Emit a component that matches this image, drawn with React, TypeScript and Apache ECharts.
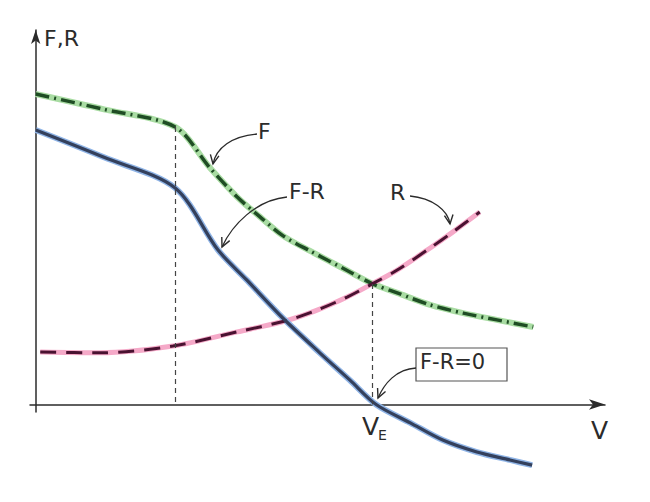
import React, { useEffect, useRef } from "react";
import * as echarts from "echarts";

// Speed V (x) and force (y), arbitrary units
const fV = [0, 12.0, 24.5, 30.6, 35.4, 39.4, 43.4, 48.2, 54.7, 59.1, 63.5, 69.3, 75.1, 81.0, 87.4];
const fForce = [82.9, 78.8, 74.1, 63.2, 55.4, 50.1, 45.1, 41.0, 35.8, 32.3, 29.8, 26.6, 24.4, 22.6, 20.7];

const rV = [0.8, 11.3, 24.1, 35.4, 43.8, 49.1, 54.7, 59.1, 63.5, 69.3, 73.3, 78.0];
const rForce = [14.0, 13.8, 15.6, 19.4, 22.3, 25.0, 28.7, 32.2, 35.9, 41.8, 46.1, 51.4];

const frV = [0, 12.0, 24.5, 32.0, 37.1, 43.4, 49.9, 55.2, 59.8, 65.8, 71.5, 77.5, 83.3, 87.2];
const frForce = [73.3, 66.0, 57.8, 41.3, 33.2, 23.1, 13.8, 6.5, 0, -4.9, -9.5, -12.7, -14.8, -16.2];

const kinkV = 24.5;
const kinkF = 74.1;
const equilibriumV = 59.1;
const equilibriumF = 32.2;

const zip = (xs: number[], ys: number[]) => xs.map((x, i) => [x, ys[i]]);

const INK = "#2b2b2b";
const FONT = "'DejaVu Sans', sans-serif";

function arrowHead(tip: number[], prev: number[], len = 10) {
  const dx = tip[0] - prev[0];
  const dy = tip[1] - prev[1];
  const d = Math.hypot(dx, dy) || 1;
  const ux = dx / d;
  const uy = dy / d;
  const a = Math.PI / 7;
  const rot = (s: number) => [
    tip[0] - len * (ux * Math.cos(s * a) - uy * Math.sin(s * a)),
    tip[1] - len * (uy * Math.cos(s * a) + ux * Math.sin(s * a)),
  ];
  return {
    type: "polyline",
    shape: { points: [rot(1), tip, rot(-1)] },
    style: { stroke: INK, lineWidth: 1.4, fill: "none" },
    z: 20,
  };
}

function curvedArrow(p1: number[], c1: number[], c2: number[], tip: number[]) {
  return [
    {
      type: "bezierCurve",
      shape: { x1: p1[0], y1: p1[1], cpx1: c1[0], cpy1: c1[1], cpx2: c2[0], cpy2: c2[1], x2: tip[0], y2: tip[1] },
      style: { stroke: INK, lineWidth: 1.3, fill: "none" },
      z: 20,
    },
    arrowHead(tip, c2),
  ];
}

function label(text: string, x: number, y: number, size = 22) {
  return {
    type: "text",
    x,
    y,
    style: { text, fill: INK, font: `${size}px ${FONT}` },
    z: 20,
  };
}

export default function App() {
  const ref = useRef<HTMLDivElement>(null);

  useEffect(() => {
    if (!ref.current) return;
    const chart = echarts.init(ref.current, null, { renderer: "svg" });

    const fData = zip(fV, fForce);
    const rData = zip(rV, rForce);
    const frData = zip(frV, frForce);
    const SM = 0.3;
    const common = { type: "line", smooth: SM, symbol: "none" };

    chart.setOption({
      animation: false,
      backgroundColor: "#ffffff",
      grid: { left: 30, right: 45, top: 30, bottom: 90, containLabel: false },
      xAxis: {
        type: "value",
        min: -1,
        max: 100,
        axisLine: {
          onZero: true,
          symbol: ["none", "arrow"],
          symbolSize: [8, 16],
          lineStyle: { color: INK, width: 1.5 },
        },
        axisTick: { show: false },
        axisLabel: { show: false },
        splitLine: { show: false },
      },
      yAxis: {
        type: "value",
        min: -2,
        max: 100,
        axisLine: {
          onZero: true,
          symbol: ["none", "arrow"],
          symbolSize: [7, 14],
          lineStyle: { color: INK, width: 1.5 },
        },
        axisTick: { show: false },
        axisLabel: { show: false },
        splitLine: { show: false },
      },
      series: [
        {
          ...common,
          name: "F halo",
          data: fData,
          lineStyle: { color: "#a9dca3", width: 6 },
          z: 2,
        },
        {
          ...common,
          name: "F",
          data: fData,
          lineStyle: { color: "#1f4d24", width: 3.5, type: [14, 5, 2, 5] },
          z: 3,
          markLine: {
            silent: true,
            symbol: "none",
            label: { show: false },
            lineStyle: { color: "#444", width: 1.2, type: [5, 4] },
            data: [
              [{ coord: [kinkV, kinkF] }, { coord: [kinkV, 0] }],
              [{ coord: [equilibriumV, equilibriumF] }, { coord: [equilibriumV, 0] }],
            ],
          },
        },
        {
          ...common,
          name: "R halo",
          data: rData,
          lineStyle: { color: "#f5a9c8", width: 5 },
          z: 2,
        },
        {
          ...common,
          name: "R",
          data: rData,
          lineStyle: { color: "#4a1231", width: 3, type: [16, 10] },
          z: 3,
        },
        {
          ...common,
          name: "F-R halo",
          data: frData,
          clip: false,
          lineStyle: { color: "#8fb4e6", width: 6 },
          z: 2,
        },
        {
          ...common,
          name: "F-R",
          data: frData,
          clip: false,
          lineStyle: { color: "#34405c", width: 3.2 },
          z: 3,
        },
      ],
    });

    const graphic: any[] = [
      label("F,R", 44, 27, 22),
      label("F", 258, 120, 22),
      ...curvedArrow([257, 134], [232, 136], [216, 148], [213, 164]),
      label("F-R", 289, 180, 22),
      ...curvedArrow([287, 197], [256, 200], [232, 225], [222, 247]),
      label("R", 390, 181, 22),
      ...curvedArrow([410, 196], [432, 198], [448, 210], [450, 224]),
      {
        type: "rect",
        shape: { x: 416, y: 348, width: 91, height: 33 },
        style: { stroke: "#555", lineWidth: 1.2, fill: "none" },
        z: 20,
      },
      label("F-R=0", 420, 351, 21),
      ...curvedArrow([416, 368], [396, 369], [384, 384], [378, 398]),
      label("V", 362, 414, 25),
      label("E", 378, 428, 14),
      label("V", 591, 418, 25),
    ];
    chart.setOption({ graphic });

    return () => chart.dispose();
  }, []);

  return (
    <div
      ref={ref}
      style={{ position: "fixed", left: 0, top: 0, width: 650, height: 502, background: "#fff" }}
    />
  );
}
